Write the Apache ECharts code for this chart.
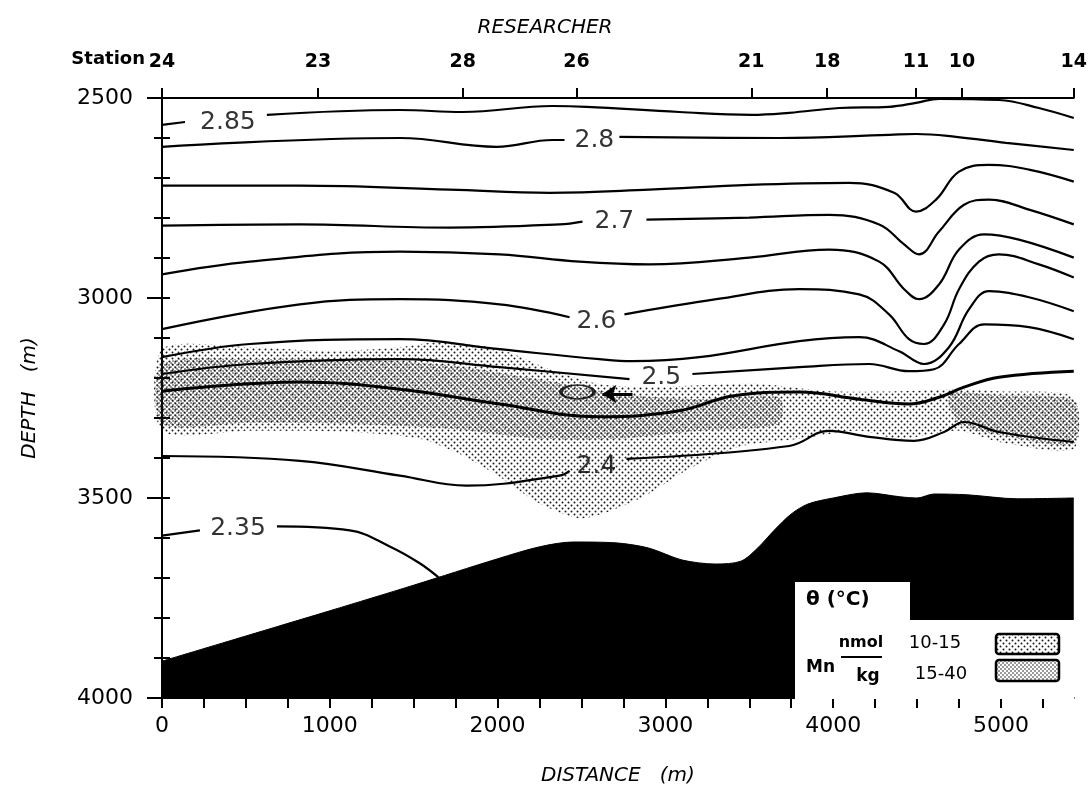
<!DOCTYPE html>
<html>
<head>
<meta charset="utf-8">
<script src="https://cdn.jsdelivr.net/npm/echarts@6/dist/echarts.min.js"></script>
<style>
  html, body { margin: 0; background: #fff; }
  #chart { width: 1090px; height: 791px; }
</style>
</head>
<body>
<div id="chart"></div>
<script>
// stations along the RESEARCHER section (distance in m)
const stationDist = [0, 929, 1792, 2470, 3512, 3964, 4494, 4768, 5434];
const stationName = ['24', '23', '28', '26', '21', '18', '11', '10', '14'];
const distTicks = [0, 250, 500, 750, 1000, 1250, 1500, 1750, 2000, 2250, 2500, 2750, 3000,
  3250, 3500, 3750, 4000, 4250, 4500, 4750, 5000, 5250];
const distLabels = [0, 1000, 2000, 3000, 4000, 5000];

// isotherms, theta (°C): segments of [distance, depth]; gaps are where the labels sit
const t285 = [
  [[0, 2567], [137, 2560]],
  [[625, 2542], [1417, 2530], [1792, 2535], [2327, 2520], [2530, 2522], [3083, 2535], [3512, 2542],
   [3738, 2537], [4036, 2525], [4333, 2522], [4494, 2512], [4631, 2502], [4988, 2505], [5226, 2525], [5434, 2550]]
];
const t280 = [
  [[0, 2622], [1417, 2600], [1994, 2622], [2327, 2605], [2399, 2605]],
  [[2726, 2597], [3679, 2600], [4333, 2592], [4494, 2590], [4732, 2597], [5030, 2612], [5434, 2630]]
];
const t275 = [
  [[0, 2719], [821, 2719], [1714, 2729], [2310, 2737], [2905, 2729], [3500, 2717], [4095, 2712], [4363, 2737],
   [4494, 2784], [4613, 2754], [4750, 2684], [4929, 2667], [5167, 2679], [5434, 2709]]
];
const t270 = [
  [[0, 2819], [821, 2816], [1714, 2824], [2369, 2816], [2506, 2809]],
  [[2887, 2804], [3500, 2799], [3976, 2792], [4274, 2816], [4423, 2866], [4512, 2891], [4631, 2834],
   [4780, 2767], [4929, 2754], [5167, 2779], [5434, 2816]]
];
const t265 = [
  [[0, 2941], [524, 2909], [1417, 2884], [2012, 2891], [2488, 2909], [2905, 2916], [3500, 2899], [3976, 2879],
   [4274, 2909], [4423, 2978], [4512, 3003], [4631, 2966], [4750, 2879], [4899, 2841], [5107, 2854], [5434, 2899]]
];
const t260 = [
  [[0, 3078], [821, 3016], [1417, 3003], [2012, 3016], [2429, 3048]],
  [[2756, 3041], [3304, 3003], [3798, 2978], [4155, 2991], [4333, 3041], [4452, 3103], [4542, 3115],
   [4661, 3066], [4750, 2978], [4869, 2909], [4988, 2891], [5226, 2916], [5434, 2949]]
];
const t255 = [
  [[0, 3148], [524, 3115], [1417, 3103], [2012, 3128], [2607, 3153], [2804, 3158], [3202, 3148], [3798, 3108],
   [4155, 3098], [4393, 3133], [4542, 3165], [4690, 3123], [4810, 3028], [4929, 2983], [5167, 2998], [5434, 3033]]
];
const t250 = [
  [[0, 3190], [524, 3165], [1417, 3153], [2012, 3173], [2786, 3203]],
  [[3161, 3190], [3798, 3173], [4214, 3165], [4452, 3183], [4601, 3178], [4750, 3115], [4899, 3066],
   [5167, 3073], [5434, 3103]]
];
const t245 = [
  [[0, 3233], [821, 3210], [1417, 3228], [2012, 3265], [2607, 3297], [3083, 3282], [3399, 3245], [3798, 3235],
   [4155, 3253], [4452, 3265], [4631, 3248], [4780, 3223], [4988, 3198], [5434, 3183]]
];
const t240 = [
  [[0, 3395], [821, 3407], [1417, 3444], [1815, 3469], [2369, 3444], [2429, 3432]],
  [[2768, 3402], [3738, 3370], [3976, 3332], [4214, 3347], [4482, 3357], [4661, 3335], [4780, 3310],
   [4988, 3335], [5434, 3360]]
];
const t235 = [
  [[0, 3594], [226, 3581]],
  [[685, 3571], [1119, 3581], [1357, 3621], [1536, 3663], [1655, 3701]]
];
const isoLabels = [
  [393, 2560, '2.85'], [2577, 2605, '2.8'], [2696, 2809, '2.7'], [2589, 3058, '2.6'],
  [2976, 3198, '2.5'], [2589, 3422, '2.4'], [453, 3576, '2.35']
];

// bottom profile
const ground = [[0, 3908], [500, 3845], [1000, 3782], [1500, 3718], [2000, 3652], [2250, 3622], [2450, 3610],
  [2700, 3612], [2900, 3625], [3100, 3655], [3300, 3665], [3450, 3658], [3550, 3625], [3650, 3580],
  [3750, 3540], [3850, 3515], [4000, 3500], [4200, 3487], [4400, 3497], [4500, 3500], [4600, 3490],
  [4800, 3492], [5100, 3502], [5434, 3500]];

// Mn zones (nmol/kg)
const mnLow = [[0, 3128], [524, 3123], [1000, 3133], [1417, 3123], [1655, 3110], [2012, 3128], [2310, 3178],
  [2607, 3215], [2905, 3223], [3202, 3218], [3560, 3215], [3976, 3233], [4393, 3233], [4750, 3228],
  [4988, 3233], [5434, 3248], [5434, 3377], [4988, 3360], [4750, 3332], [4393, 3352], [4155, 3332],
  [3798, 3352], [3440, 3372], [3143, 3427], [2845, 3502], [2506, 3551], [2250, 3514], [2012, 3447],
  [1774, 3390], [1536, 3352], [1119, 3335], [524, 3332], [0, 3332]];
const mnHigh = [[0, 3165], [524, 3153], [1119, 3153], [1714, 3168], [2310, 3208], [2726, 3240], [3202, 3253],
  [3679, 3248], [3679, 3315], [3202, 3332], [2726, 3352], [2250, 3352], [1714, 3327], [1119, 3315],
  [524, 3312], [0, 3315]];
const mnHighRight = [[4690, 3240], [4988, 3243], [5434, 3257], [5434, 3365], [4988, 3342], [4750, 3315]];

const blob = [2476, 3235];
const arrow = [[2804, 3240], [2625, 3240]];

function dots(size, r) {
  const c = document.createElement('canvas');
  c.width = c.height = size;
  const g = c.getContext('2d');
  g.fillStyle = '#1a1a1a';
  [[size / 4, size / 4], [size * 3 / 4, size * 3 / 4]].forEach(function (p) {
    g.beginPath();
    g.arc(p[0], p[1], r, 0, Math.PI * 2);
    g.fill();
  });
  return c;
}
const lightFill = { image: dots(6, 1.0), repeat: 'repeat' };
const denseFill = { image: dots(4, 0.8), repeat: 'repeat' };

const FONT = 'DejaVu Sans';
const plain = function (v) { return String(v); };

function zoneSeries(points, fill) {
  return {
    type: 'custom',
    z: 1,
    silent: true,
    data: [points[0]],
    renderItem: function (params, api) {
      return {
        type: 'polygon',
        shape: { points: points.map(function (p) { return api.coord(p); }), smooth: 0.25 },
        style: { fill: fill }
      };
    }
  };
}

const isotherms = [t285, t280, t275, t270, t265, t260, t255, t250, t245, t240, t235];
const lineSeries = [];
isotherms.forEach(function (segs) {
  segs.forEach(function (seg) {
    lineSeries.push({
      type: 'line',
      data: seg,
      smooth: 0.4,
      symbol: 'none',
      z: 3,
      lineStyle: { color: '#000', width: segs === t245 ? 3 : 2.2 }
    });
  });
});

const chart = echarts.init(document.getElementById('chart'));
chart.setOption({
  animation: false,
  grid: { left: 162, right: 15, top: 98, bottom: 91 },
  xAxis: [{
    type: 'value', position: 'bottom', min: 0, max: 5434,
    axisLine: { lineStyle: { color: '#000', width: 2 } },
    axisTick: { customValues: distTicks, length: 10, lineStyle: { color: '#000', width: 2 } },
    axisLabel: { customValues: distLabels, formatter: plain, margin: 17, color: '#000', fontSize: 22, fontFamily: FONT },
    splitLine: { show: false },
    name: 'DISTANCE   (m)', nameLocation: 'middle', nameGap: 68,
    nameTextStyle: { color: '#000', fontSize: 20, fontStyle: 'italic', fontFamily: FONT }
  }, {
    type: 'value', position: 'top', min: 0, max: 5434,
    axisLine: { lineStyle: { color: '#000', width: 2 } },
    axisTick: { customValues: stationDist, length: 10, lineStyle: { color: '#000', width: 2 } },
    axisLabel: {
      customValues: stationDist, margin: 26, color: '#000', fontSize: 19, fontWeight: 'bold', fontFamily: FONT,
      formatter: function (v) { return stationName[stationDist.indexOf(v)]; }
    },
    splitLine: { show: false }
  }],
  yAxis: [{
    type: 'value', inverse: true, min: 2500, max: 4000, interval: 500, position: 'left',
    axisLine: { lineStyle: { color: '#000', width: 2 } },
    axisTick: { length: 15, lineStyle: { color: '#000', width: 2 } },
    minorTick: { show: true, splitNumber: 5, length: 8, lineStyle: { color: '#000', width: 2 } },
    axisLabel: { formatter: plain, margin: 29, color: '#000', fontSize: 22, fontFamily: FONT },
    splitLine: { show: false },
    name: 'DEPTH   (m)', nameLocation: 'middle', nameRotate: 90, nameGap: 122,
    nameTextStyle: { color: '#000', fontSize: 20, fontStyle: 'italic', fontFamily: FONT }
  }, {
    type: 'value', inverse: true, min: 2500, max: 4000, interval: 100, position: 'right',
    axisLine: { lineStyle: { color: '#000', width: 2 } },
    axisTick: { length: 8, lineStyle: { color: '#000', width: 2 } },
    axisLabel: { show: false },
    splitLine: { show: false }
  }],
  series: [
    zoneSeries(mnLow, lightFill),
    zoneSeries(mnHigh, denseFill),
    zoneSeries(mnHighRight, denseFill)
  ].concat(lineSeries).concat([
    {
      type: 'scatter', data: isoLabels, symbolSize: 0, z: 4, silent: true,
      label: {
        show: true, position: 'inside', formatter: function (p) { return p.value[2]; },
        color: '#000', fontSize: 25, fontFamily: FONT
      }
    },
    {
      type: 'scatter', data: [blob], symbol: 'circle', symbolSize: [33, 14], z: 4,
      itemStyle: { color: 'rgba(0,0,0,0)', borderColor: '#000', borderWidth: 2.5 }
    },
    {
      type: 'lines', coordinateSystem: 'cartesian2d', z: 4,
      symbol: ['none', 'arrow'], symbolSize: 14,
      lineStyle: { color: '#000', width: 3, opacity: 1 },
      data: [{ coords: arrow }]
    },
    {
      type: 'line', data: ground, smooth: 0.3, symbol: 'none', z: 5,
      lineStyle: { color: '#000', width: 1 },
      areaStyle: { color: '#000', opacity: 1, origin: 'end' }
    }
  ]),
  graphic: [
    { type: 'text', x: 545, y: 28, z: 100, style: { text: 'RESEARCHER', font: 'italic 20px "DejaVu Sans"', fill: '#000', align: 'center', verticalAlign: 'middle' } },
    { type: 'text', x: 145, y: 59, z: 100, style: { text: 'Station', font: 'bold 18px "DejaVu Sans"', fill: '#000', align: 'right', verticalAlign: 'middle' } },
    { type: 'rect', z: 100, shape: { x: 795, y: 582, width: 115, height: 40 }, style: { fill: '#fff' } },
    { type: 'rect', z: 100, shape: { x: 795, y: 620, width: 279, height: 79 }, style: { fill: '#fff' } },
    { type: 'text', x: 806, y: 600, z: 101, style: { text: 'θ (°C)', font: 'bold 20px "DejaVu Sans"', fill: '#000', verticalAlign: 'middle' } },
    { type: 'text', x: 806, y: 668, z: 101, style: { text: 'Mn', font: 'bold 17px "DejaVu Sans"', fill: '#000', verticalAlign: 'middle' } },
    { type: 'text', x: 861, y: 643, z: 101, style: { text: 'nmol', font: 'bold 16px "DejaVu Sans"', fill: '#000', align: 'center', verticalAlign: 'middle' } },
    { type: 'line', z: 101, shape: { x1: 841, y1: 657, x2: 882, y2: 657 }, style: { stroke: '#000', lineWidth: 2 } },
    { type: 'text', x: 868, y: 677, z: 101, style: { text: 'kg', font: 'bold 17px "DejaVu Sans"', fill: '#000', align: 'center', verticalAlign: 'middle' } },
    { type: 'text', x: 935, y: 643, z: 101, style: { text: '10-15', font: '18px "DejaVu Sans"', fill: '#000', align: 'center', verticalAlign: 'middle' } },
    { type: 'text', x: 941, y: 674, z: 101, style: { text: '15-40', font: '18px "DejaVu Sans"', fill: '#000', align: 'center', verticalAlign: 'middle' } },
    { type: 'rect', z: 101, shape: { x: 996, y: 634, width: 63, height: 20, r: 3 }, style: { fill: lightFill, stroke: '#000', lineWidth: 2.5 } },
    { type: 'rect', z: 101, shape: { x: 996, y: 660, width: 63, height: 21, r: 3 }, style: { fill: denseFill, stroke: '#000', lineWidth: 2.5 } }
  ]
});
</script>
</body>
</html>
